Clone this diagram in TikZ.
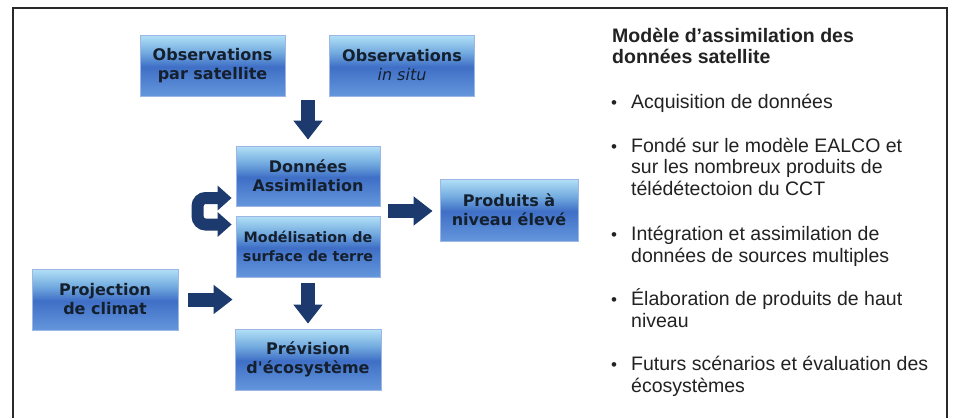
\documentclass[tikz,border=0pt]{standalone}
\usepackage{fontspec}
\setmainfont{Liberation Sans}
\newfontfamily\boxfont{DejaVu Sans}
\usetikzlibrary{arrows.meta,calc}
\definecolor{navy}{HTML}{1C3A6E}
\definecolor{bbot}{HTML}{6496DC}
\definecolor{bdark}{HTML}{3F6FC6}
\definecolor{bmid}{HTML}{74ACE0}
\definecolor{btop}{HTML}{B2E0F6}
\definecolor{bline}{HTML}{9DB6E6}
\definecolor{tcol}{HTML}{15202E}
\definecolor{tgray}{HTML}{222222}
\definecolor{framec}{HTML}{2A2A2A}
\pgfdeclareverticalshading{boxshade}{100bp}{color(0bp)=(bbot); color(25bp)=(bbot); color(49bp)=(bdark); color(61bp)=(bmid); color(75bp)=(btop); color(100bp)=(btop)}
\tikzset{
  boxst/.style={draw=bline, line width=0.8pt, shading=boxshade, minimum width=145pt, minimum height=61pt, inner sep=0pt, align=center, text=tcol, font=\boxfont\bfseries\fontsize{16}{19}\selectfont},
  fat/.style={draw=navy, line width=14pt, -{Triangle[width=28pt,length=19pt]}},
  loopar/.style={draw=navy, line width=12pt, {Triangle[width=24pt,length=14pt]}-{Triangle[width=24pt,length=14pt]}, rounded corners=8pt},
  txt/.style={anchor=base west, inner sep=0pt, text=tgray, font=\fontsize{19.5}{21.5}\selectfont},
  ttl/.style={txt, font=\bfseries\fontsize{19.5}{21.5}\selectfont},
  bul/.style={anchor=base west, inner sep=0pt, text=tgray, font=\fontsize{17}{19}\selectfont}
}
\begin{document}
\begin{tikzpicture}[x=1pt,y=-1pt]
\fill[white] (0,0) rectangle (960,418);
\useasboundingbox (0,0) rectangle (960,418);
\draw[framec, line width=2.5pt] (13,418) -- (13,8) -- (947,8) -- (947,418);

% boxes
\node[boxst] (sat) at (212.5,65.5) {Observations\\par satellite};
\node[boxst] (situ) at (402,65.5) {Observations\\{\mdseries\itshape in situ}};
\node[boxst, minimum width=144pt, minimum height=60pt] (da) at (308,176) {Données\\Assimilation};
\node[boxst, minimum width=144pt, font=\boxfont\bfseries\fontsize{14.3}{19}\selectfont] (mod) at (308,246.5) {Modélisation de\\surface de terre};
\node[boxst, minimum width=138pt, minimum height=62pt] (prod) at (509,210) {Produits à\\niveau élevé};
\node[boxst, minimum width=146pt] (proj) at (105,299.5) {Projection\\de climat};
\node[boxst, minimum width=146pt] (prev) at (308,359.5) {Prévision\\d'écosystème};

% arrows
\draw[fat, shorten <=4pt, shorten >=6pt] (sat.south -| da.north) -- (da.north);
\coordinate (stackR) at ($(da.south east)!0.5!(mod.north east)$);
\draw[fat, shorten <=8pt, shorten >=7pt] (stackR) -- (stackR -| prod.west);
\draw[fat, shorten <=6pt, shorten >=5pt] (mod.south) -- (prev.north);
\draw[fat, shorten <=10pt, shorten >=3pt] (proj.east) -- (proj.east -| mod.west);
\draw[loopar, shorten <=4pt, shorten >=4pt] ([yshift=-22pt]da.west) -- ++(-38,0) |- ([yshift=22pt]mod.west);

% right text
\node[ttl] (t1) at (612,42) {Modèle d'assimilation des};
\node[ttl] (t2) at (612,63) {données satellite};

\node[bul] (u1) at (611,108) {\textbullet};
\node[txt] (a1) at (631,108) {Acquisition de données};
\node[bul] (u2) at (611,152) {\textbullet};
\node[txt] (b1) at (631,152) {Fondé sur le modèle EALCO et};
\node[txt] (b2) at (631,173) {sur les nombreux produits de};
\node[txt] (b3) at (631,195) {télédétectoion du CCT};
\node[bul] (u3) at (611,240) {\textbullet};
\node[txt] (c1) at (631,240) {Intégration et assimilation de};
\node[txt] (c2) at (631,262) {données de sources multiples};
\node[bul] (u4) at (611,305) {\textbullet};
\node[txt] (d1) at (631,305) {Élaboration de produits de haut};
\node[txt] (d2) at (631,327) {niveau};
\node[bul] (u5) at (611,370) {\textbullet};
\node[txt] (e1) at (631,370) {Futurs scénarios et évaluation des};
\node[txt] (e2) at (631,392) {écosystèmes};
\end{tikzpicture}
\end{document}
